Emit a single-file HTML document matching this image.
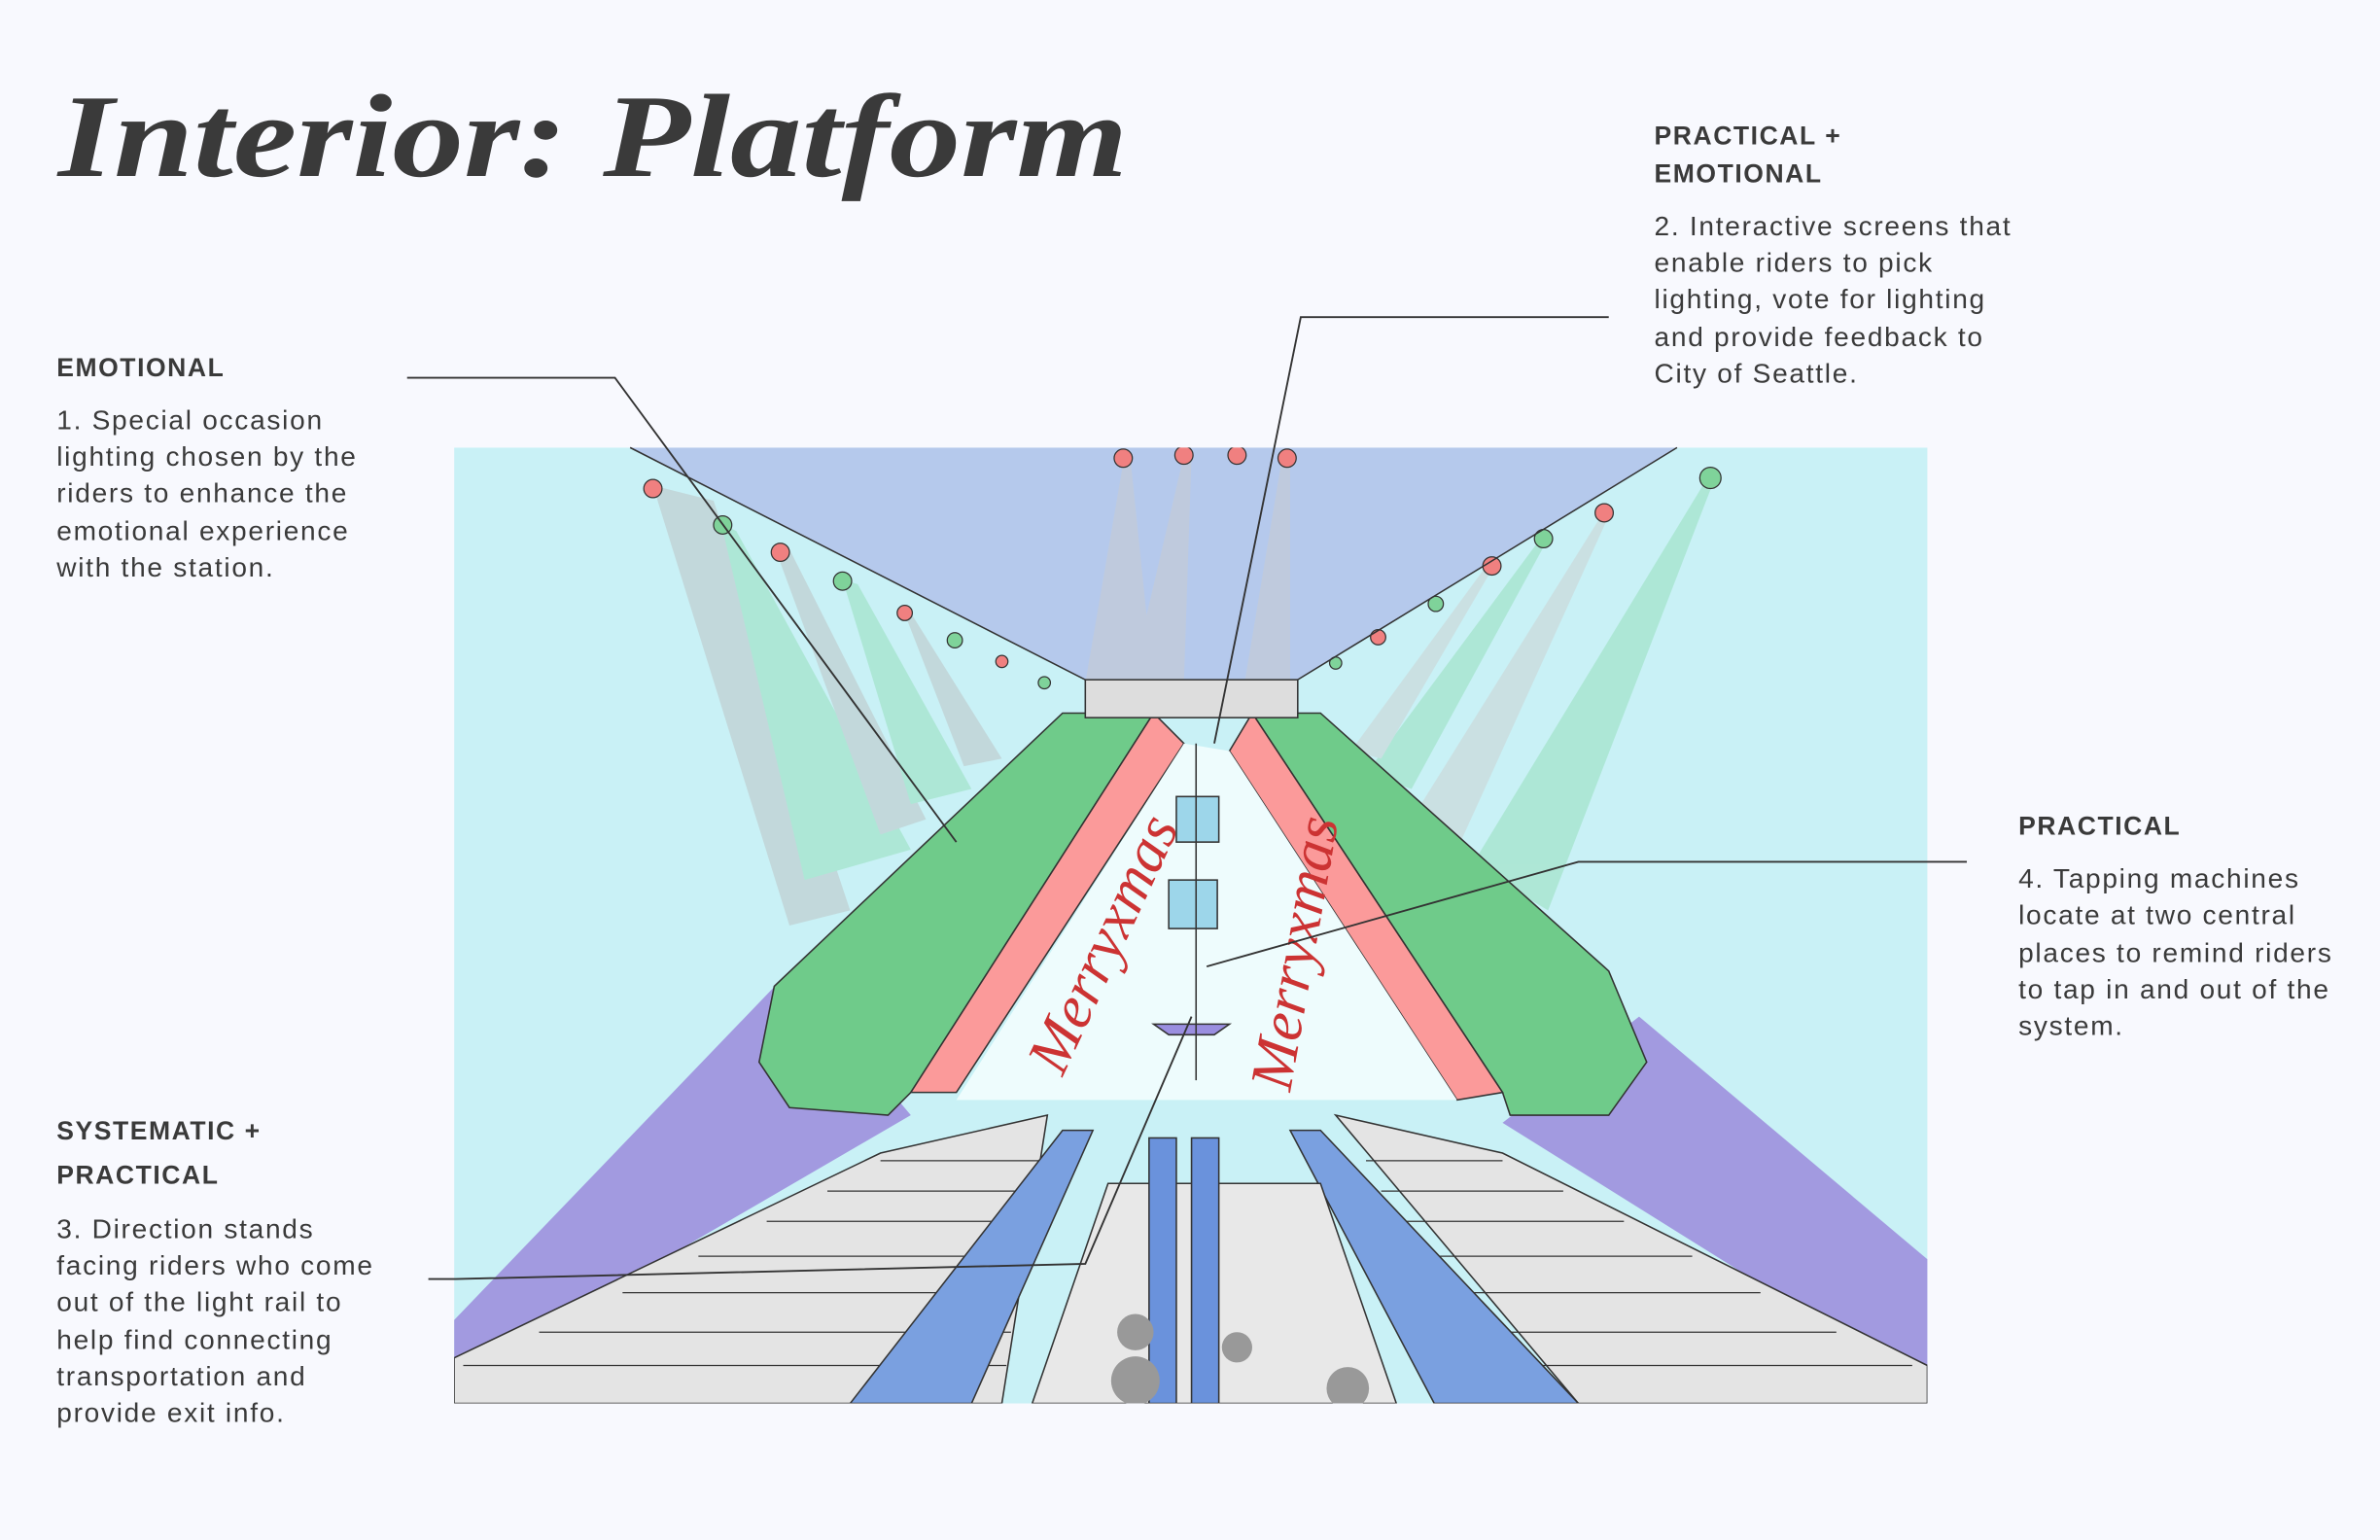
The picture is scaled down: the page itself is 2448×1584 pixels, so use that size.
<!DOCTYPE html>
<html><head><meta charset="utf-8"><style>
html,body{margin:0;padding:0;background:#f8f9fe;}
svg{display:block;}
.h{font-family:"Liberation Sans",sans-serif;font-weight:bold;font-size:17px;fill:#3a3a3a;letter-spacing:1px;}
.b{font-family:"Liberation Sans",sans-serif;font-size:18px;fill:#3a3a3a;letter-spacing:1.1px;}
</style></head><body>
<svg width="2448" height="1584" viewBox="0 0 1568 1015" xmlns="http://www.w3.org/2000/svg">
<rect width="1568" height="1015" fill="#f8f9fe"/>
<text x="38" y="116" textLength="705" lengthAdjust="spacingAndGlyphs" font-family="Liberation Serif,serif" font-weight="bold" font-style="italic" font-size="78" fill="#3a3a3a">Interior: Platform</text>

<g>
<clipPath id="c"><rect x="299" y="295" width="971" height="630"/></clipPath>
<g clip-path="url(#c)">
<rect x="299" y="295" width="971" height="630" fill="#c9f1f6"/>
<polygon points="415,295 1105,295 855,448 715,448" fill="#b5c9ec"/>
<g opacity="0.45">
<polygon points="430,320 470,330 560,600 520,610" fill="#bbb"/>
<polygon points="475,345 485,350 600,560 530,580" fill="#8ddcb0"/>
<polygon points="510,360 520,362 610,540 580,550" fill="#bbb"/>
<polygon points="555,382 565,385 640,520 600,530" fill="#8ddcb0"/>
<polygon points="595,402 600,404 660,500 635,505" fill="#bbb"/>
<polygon points="740,305 745,305 760,450 715,450" fill="#ccc"/>
<polygon points="780,300 785,300 780,450 745,450" fill="#ccc"/>
<polygon points="845,300 850,300 850,450 820,450" fill="#ccc"/>
<polygon points="1125,315 1130,315 1020,600 970,570" fill="#8ddcb0"/>
<polygon points="1055,340 1060,340 960,560 930,540" fill="#ccc"/>
<polygon points="1015,355 1020,355 930,520 900,510" fill="#8ddcb0"/>
<polygon points="980,372 985,372 910,500 890,495" fill="#ccc"/>
</g>
<g stroke="#333" stroke-width="0.8">
<circle cx="430" cy="322" r="6" fill="#f08080"/><circle cx="476" cy="346" r="6" fill="#7fd39a"/>
<circle cx="514" cy="364" r="6" fill="#f08080"/><circle cx="555" cy="383" r="6" fill="#7fd39a"/>
<circle cx="596" cy="404" r="5" fill="#f08080"/><circle cx="629" cy="422" r="5" fill="#7fd39a"/>
<circle cx="660" cy="436" r="4" fill="#f08080"/><circle cx="688" cy="450" r="4" fill="#7fd39a"/>
<circle cx="740" cy="302" r="6" fill="#f08080"/><circle cx="780" cy="300" r="6" fill="#f08080"/>
<circle cx="815" cy="300" r="6" fill="#f08080"/><circle cx="848" cy="302" r="6" fill="#f08080"/>
<circle cx="1127" cy="315" r="7" fill="#7fd39a"/><circle cx="1057" cy="338" r="6" fill="#f08080"/>
<circle cx="1017" cy="355" r="6" fill="#7fd39a"/><circle cx="983" cy="373" r="6" fill="#f08080"/>
<circle cx="946" cy="398" r="5" fill="#7fd39a"/><circle cx="908" cy="420" r="5" fill="#f08080"/>
<circle cx="880" cy="437" r="4" fill="#7fd39a"/>
</g>
<polygon points="299,870 520,640 600,735 299,910" fill="#a29ae0"/>
<polygon points="1270,830 1080,670 990,740 1270,915" fill="#a29ae0"/>
<polygon points="700,470 760,470 600,720 585,735 520,730 500,700 510,650" fill="#6fcb8a" stroke="#333"/>
<polygon points="760,470 780,490 630,720 600,720" fill="#fb9a9a" stroke="#333"/>
<polygon points="825,470 870,470 1060,640 1085,700 1060,735 995,735 990,720" fill="#6fcb8a" stroke="#333"/>
<polygon points="825,470 990,720 960,725 810,495" fill="#fb9a9a" stroke="#333"/>
<polygon points="780,490 810,495 960,725 630,725" fill="#eefcfd"/>
<rect x="715" y="448" width="140" height="25" fill="#ddd" stroke="#333"/>
<text x="700" y="710" transform="rotate(-65 700 710)" font-family="Liberation Serif,serif" font-style="italic" font-size="40" fill="#c33">Merryxmas</text>
<text x="850" y="720" transform="rotate(-80 850 720)" font-family="Liberation Serif,serif" font-style="italic" font-size="40" fill="#c33">Merryxmas</text>
<rect x="775" y="525" width="28" height="30" fill="#9dd6ea" stroke="#333"/>
<rect x="770" y="580" width="32" height="32" fill="#9dd6ea" stroke="#333"/>
<polygon points="760,675 810,675 800,682 770,682" fill="#9a8ee0" stroke="#333"/>
<line x1="788" y1="490" x2="788" y2="712" stroke="#333"/>
<polygon points="299,895 580,760 690,735 660,925 299,925" fill="#e4e4e4" stroke="#333"/>
<polygon points="1270,900 990,760 880,735 1040,925 1270,925" fill="#e4e4e4" stroke="#333"/>
<g stroke="#333" stroke-width="0.8">
<line x1="580" y1="765" x2="685" y2="765"/><line x1="545" y1="785" x2="680" y2="785"/>
<line x1="505" y1="805" x2="678" y2="805"/><line x1="460" y1="828" x2="674" y2="828"/>
<line x1="410" y1="852" x2="670" y2="852"/><line x1="355" y1="878" x2="666" y2="878"/>
<line x1="305" y1="900" x2="663" y2="900"/>
<line x1="900" y1="765" x2="990" y2="765"/><line x1="910" y1="785" x2="1030" y2="785"/>
<line x1="925" y1="805" x2="1070" y2="805"/><line x1="945" y1="828" x2="1115" y2="828"/>
<line x1="965" y1="852" x2="1160" y2="852"/><line x1="990" y1="878" x2="1210" y2="878"/>
<line x1="1010" y1="900" x2="1260" y2="900"/>
</g>
<polygon points="560,925 700,745 720,745 640,925" fill="#7aa0e0" stroke="#333"/>
<polygon points="945,925 850,745 870,745 1040,925" fill="#7aa0e0" stroke="#333"/>
<polygon points="680,925 730,780 870,780 920,925" fill="#e8e8e8" stroke="#333"/>
<rect x="757" y="750" width="18" height="175" fill="#6a92dc" stroke="#333"/>
<rect x="785" y="750" width="18" height="175" fill="#6a92dc" stroke="#333"/>
<circle cx="748" cy="878" r="12" fill="#999"/><circle cx="748" cy="910" r="16" fill="#999"/>
<circle cx="815" cy="888" r="10" fill="#999"/><circle cx="888" cy="915" r="14" fill="#999"/>
</g>
<line x1="415" y1="295" x2="715" y2="448" stroke="#333"/>
<line x1="1105" y1="295" x2="855" y2="448" stroke="#333"/>
</g>

<g stroke="#333" stroke-width="1.2" fill="none">
<polyline points="268,249 405,249 630,555"/>
<polyline points="1060,209 857,209 800,490"/>
<polyline points="1296,568 1040,568 795,637"/>
<polyline points="282,843 300,843 715,833 785,670"/>
</g>

<g>
<text class="h" x="37" y="248">EMOTIONAL</text>
<text class="b" x="37" y="283">1. Special occasion</text>
<text class="b" x="37" y="307">lighting chosen by the</text>
<text class="b" x="37" y="331">riders to enhance the</text>
<text class="b" x="37" y="356">emotional experience</text>
<text class="b" x="37" y="380">with the station.</text>
</g>
<g>
<text class="h" x="1090" y="95">PRACTICAL +</text>
<text class="h" x="1090" y="120">EMOTIONAL</text>
<text class="b" x="1090" y="155">2. Interactive screens that</text>
<text class="b" x="1090" y="179">enable riders to pick</text>
<text class="b" x="1090" y="203">lighting, vote for lighting</text>
<text class="b" x="1090" y="228">and provide feedback to</text>
<text class="b" x="1090" y="252">City of Seattle.</text>
</g>
<g>
<text class="h" x="1330" y="550">PRACTICAL</text>
<text class="b" x="1330" y="585">4. Tapping machines</text>
<text class="b" x="1330" y="609">locate at two central</text>
<text class="b" x="1330" y="634">places to remind riders</text>
<text class="b" x="1330" y="658">to tap in and out of the</text>
<text class="b" x="1330" y="682">system.</text>
</g>
<g>
<text class="h" x="37" y="751">SYSTEMATIC +</text>
<text class="h" x="37" y="780">PRACTICAL</text>
<text class="b" x="37" y="816">3. Direction stands</text>
<text class="b" x="37" y="840">facing riders who come</text>
<text class="b" x="37" y="864">out of the light rail to</text>
<text class="b" x="37" y="889">help find connecting</text>
<text class="b" x="37" y="913">transportation and</text>
<text class="b" x="37" y="937">provide exit info.</text>
</g>
</svg>
</body></html>
